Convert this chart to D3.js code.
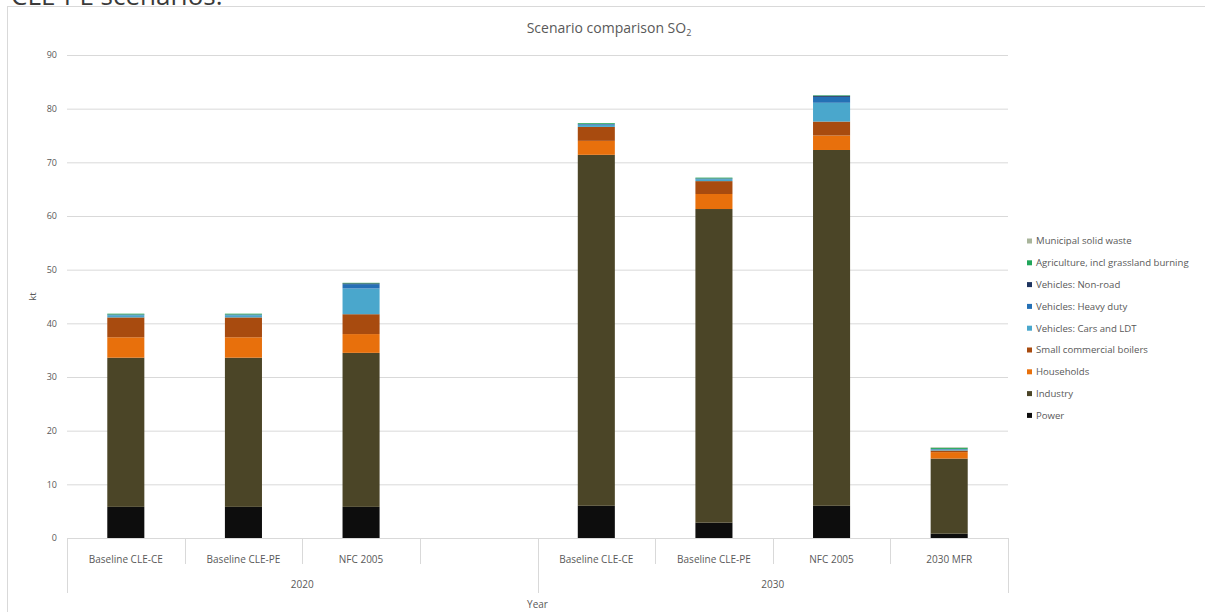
<!DOCTYPE html>
<html>
<head>
<meta charset="utf-8">
<script src="https://cdn.jsdelivr.net/npm/d3@7"></script>
<style>
  html, body { margin: 0; padding: 0; background: #fff; }
  svg { display: block; }
  text { font-family: "Open Sans", "Noto Sans", sans-serif; }
</style>
</head>
<body>
<svg id="chart" width="1205" height="612"></svg>
<script>
// Scenario groups and slots (the 2020 group keeps an empty fourth slot)
const years = ["2020", "2030"];
const scenarios2020 = ["Baseline CLE-CE", "Baseline CLE-PE", "NFC 2005", ""];
const scenarios2030 = ["Baseline CLE-CE", "Baseline CLE-PE", "NFC 2005", "2030 MFR"];

// Sector emissions, kt SO2, one value per slot (2020 x4, 2030 x4)
const power        = [5.8, 5.8, 5.8, 0, 6.0, 2.85, 6.0, 0.8];
const industry     = [27.8, 27.8, 28.7, 0, 65.4, 58.45, 66.3, 14.0];
const households   = [3.8, 3.8, 3.5, 0, 2.6, 2.8, 2.7, 1.2];
const smallBoilers = [3.7, 3.7, 3.7, 0, 2.6, 2.4, 2.6, 0.3];
const carsLDT      = [0.4, 0.4, 4.8, 0, 0.4, 0.35, 3.5, 0.2];
const heavyDuty    = [0.1, 0.1, 0.8, 0, 0.1, 0.1, 1.1, 0.05];
const nonRoad      = [0.05, 0.05, 0.15, 0, 0.05, 0.05, 0.2, 0.05];
const agriculture  = [0.15, 0.15, 0.1, 0, 0.15, 0.15, 0.1, 0.2];
const msw          = [0, 0, 0, 0, 0, 0, 0, 0.1];

const sectorNames = ["Power", "Industry", "Households", "Small commercial boilers",
  "Vehicles: Cars and LDT", "Vehicles: Heavy duty", "Vehicles: Non-road",
  "Agriculture, incl grassland burning", "Municipal solid waste"];
const sectorColors = ["#0d0d0d", "#4b4527", "#e8700c", "#a84b0f",
  "#4aa7cc", "#2470b5", "#1f3560", "#21a65a", "#a9b59b"];
const yTicks = [0, 10, 20, 30, 40, 50, 60, 70, 80, 90];

const seriesValues = [power, industry, households, smallBoilers, carsLDT,
  heavyDuty, nonRoad, agriculture, msw];

const slots = [];
scenarios2020.forEach((s, i) => slots.push({ key: "2020|" + i, year: "2020", label: s }));
scenarios2030.forEach((s, i) => slots.push({ key: "2030|" + i, year: "2030", label: s }));

const rows = slots.map((sl, i) => {
  const r = { key: sl.key };
  sectorNames.forEach((n, j) => { r[n] = seriesValues[j][i]; });
  return r;
});

const svg = d3.select("#chart");
const textGray = "#595959";
const gridGray = "#d9d9d9";

// Page caption above the chart frame (runs off the top edge)
svg.append("text")
  .attr("x", 11).attr("y", 5)
  .attr("font-size", 26).attr("fill", "#3a3a3a")
  .text("CLE-PE scenarios.");

// Chart frame
svg.append("rect")
  .attr("x", 7.5).attr("y", 6.5)
  .attr("width", 1205).attr("height", 620)
  .attr("fill", "#fff").attr("stroke", gridGray);

const plotLeft = 67, plotRight = 1008, plotTop = 55, plotBottom = 538;

const x = d3.scaleBand()
  .domain(slots.map(d => d.key))
  .range([plotLeft, plotRight])
  .paddingInner(0.685)
  .paddingOuter(0.3425);

const y = d3.scaleLinear().domain([0, 90]).range([plotBottom, plotTop]);

// Gridlines and y labels
const yAxis = d3.axisLeft(y).tickValues(yTicks).tickSize(-(plotRight - plotLeft)).tickPadding(10);
const gy = svg.append("g").attr("transform", `translate(${plotLeft},0)`).call(yAxis);
gy.select(".domain").remove();
gy.selectAll(".tick line").attr("stroke", gridGray).attr("stroke-width", 1);
gy.selectAll(".tick text").attr("fill", textGray).attr("font-size", 9)
  .style("font-family", "'Open Sans', sans-serif");

// Stacked bars
const stack = d3.stack().keys(sectorNames);
const layers = stack(rows);
svg.append("g").selectAll("g")
  .data(layers)
  .join("g")
  .attr("fill", (d, i) => sectorColors[i])
  .selectAll("rect")
  .data(d => d)
  .join("rect")
  .attr("x", d => x(d.data.key))
  .attr("width", x.bandwidth())
  .attr("y", d => y(d[1]))
  .attr("height", d => Math.max(0, y(d[0]) - y(d[1])));

// Category axis: base line, slot labels, dividers
svg.append("line")
  .attr("x1", plotLeft).attr("x2", plotRight)
  .attr("y1", plotBottom + 0.5).attr("y2", plotBottom + 0.5)
  .attr("stroke", gridGray);

const step = x.step();
const slotStart = key => x(key) - x.paddingInner() * step / 2;

slots.forEach((sl, i) => {
  const sx = slotStart(sl.key);
  const isGroupEdge = i % 4 === 0;
  svg.append("line")
    .attr("x1", Math.round(sx) + 0.5).attr("x2", Math.round(sx) + 0.5)
    .attr("y1", plotBottom).attr("y2", isGroupEdge ? 593 : 564)
    .attr("stroke", gridGray);
  svg.append("text")
    .attr("x", x(sl.key) + x.bandwidth() / 2)
    .attr("y", 562.5)
    .attr("text-anchor", "middle")
    .attr("font-size", 10).attr("fill", textGray)
    .text(sl.label);
});
svg.append("line")
  .attr("x1", plotRight + 0.5).attr("x2", plotRight + 0.5)
  .attr("y1", plotBottom).attr("y2", 593).attr("stroke", gridGray);

years.forEach((yr, gi) => {
  const a = slotStart(slots[gi * 4].key);
  const b = gi === years.length - 1 ? plotRight : slotStart(slots[gi * 4 + 4].key);
  svg.append("text")
    .attr("x", (a + b) / 2).attr("y", 588)
    .attr("text-anchor", "middle")
    .attr("font-size", 10).attr("fill", textGray)
    .text(yr);
});

// Axis titles
svg.append("text")
  .attr("x", (plotLeft + plotRight) / 2).attr("y", 608)
  .attr("text-anchor", "middle")
  .attr("font-size", 10).attr("fill", textGray)
  .text("Year");

svg.append("text")
  .attr("transform", `translate(36,${(plotTop + plotBottom) / 2}) rotate(-90)`)
  .attr("text-anchor", "middle")
  .attr("font-size", 9.5).attr("fill", textGray)
  .text("kt");

// Title with subscript
const title = svg.append("text")
  .attr("x", 609).attr("y", 33)
  .attr("text-anchor", "middle")
  .attr("font-size", 14).attr("fill", textGray);
title.append("tspan").text("Scenario comparison SO");
title.append("tspan").attr("font-size", 9).attr("dy", 3).text("2");

// Legend, top entry is the last series
const legendItems = sectorNames.map((n, i) => ({ name: n, color: sectorColors[i] })).reverse();
const lg = svg.append("g");
legendItems.forEach((it, i) => {
  const ly = 241 + i * 21.8;
  lg.append("rect")
    .attr("x", 1027).attr("y", ly - 2.5)
    .attr("width", 5).attr("height", 5)
    .attr("fill", it.color);
  lg.append("text")
    .attr("x", 1036).attr("y", ly + 3.3)
    .attr("font-size", 9.6).attr("fill", textGray)
    .text(it.name);
});
</script>
</body>
</html>
